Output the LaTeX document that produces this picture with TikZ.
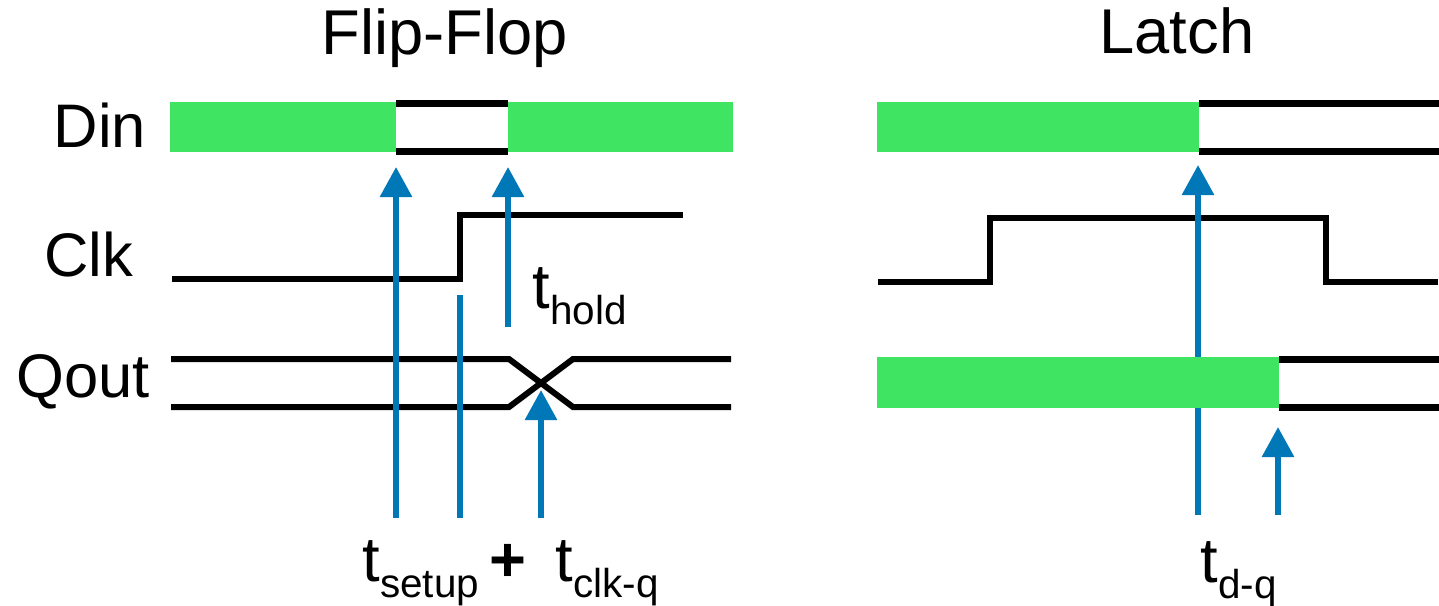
\documentclass[tikz,border=0pt]{standalone}
\usepackage{fontspec}
\setmainfont{Liberation Sans}
\usetikzlibrary{arrows.meta}
\definecolor{datafill}{HTML}{3EE462}
\definecolor{markline}{HTML}{0078B7}
\newcommand{\tsub}[1]{t\raisebox{-1.6mm}{\fontsize{11.5}{12}\selectfont #1}}
\tikzset{
  sig/.style    = {line width=0.6mm, draw=black, line join=miter},
  busedge/.style= {line width=0.7mm, draw=black},
  databar/.style= {fill=datafill},
  tmark/.style  = {-{Triangle[length=3mm, width=3.1mm]}, line width=0.6mm, draw=markline},
  tline/.style  = {line width=0.6mm, draw=markline},
  ttl/.style    = {font=\fontsize{18}{21}\selectfont, inner sep=0pt, anchor=base},
  lbl/.style    = {font=\fontsize{17.5}{21}\selectfont, inner sep=0pt, anchor=base},
  tlbl/.style   = {font=\fontsize{18}{21}\selectfont, inner sep=0pt, anchor=base west},
}

\begin{document}
\begin{tikzpicture}[x=0.1mm, y=-0.1mm]
  \useasboundingbox (0,0) rectangle (1439,605);
  % titles and signal names
  \node[ttl] (fftitle) at (445,54) {Flip-Flop};
  \node[ttl] (latchtitle) at (1177,53) {Latch};
  \node[lbl] (din) at (100,147) {Din};
  \node[lbl] (clk) at (89,276) {Clk};
  \node[lbl] (qout) at (83,397) {Qout};

  % flip-flop: Din
  \fill[databar] (170,102) rectangle (396,152);
  \fill[databar] (508,102) rectangle (733,152);
  \foreach \y in {103,151}{\draw[busedge] (396,\y) -- (508,\y);}
  % flip-flop: Clk
  \draw[sig] (172,279) -- (460,279) -- (460,215) -- (683,215);
  % flip-flop: Qout
  \draw[sig] (171,359) -- (509,359) -- (573,407) -- (731,407);
  \draw[sig] (171,407) -- (509,407) -- (573,359) -- (731,359);

  % latch: Din
  \fill[databar] (877,102) rectangle (1199,152);
  \foreach \y in {103,151}{\draw[busedge] (1199,\y) -- (1439,\y);}
  % latch: Clk
  \draw[sig] (878,282) -- (990,282) -- (990,218) -- (1326,218) -- (1326,282) -- (1438,282);

  % timing marks, flip-flop
  \coordinate (su-tail) at (396,518);  \coordinate (su-tip) at (396,167);
  \coordinate (ck-top) at (460,295);   \coordinate (ck-bot) at (460,518);
  \coordinate (ho-tail) at (508,327);  \coordinate (ho-tip) at (508,167);
  \coordinate (cq-tail) at (541,518);  \coordinate (cq-tip) at (541,390);
  \draw[tmark] (su-tail) -- (su-tip);
  \draw[tline] (ck-top) -- (ck-bot);
  \draw[tmark] (ho-tail) -- (ho-tip);
  \draw[tmark] (cq-tail) -- (cq-tip);

  % timing marks, latch
  \coordinate (dq-tail) at (1198,515); \coordinate (dq-tip) at (1198,165);
  \coordinate (qq-tail) at (1278,515); \coordinate (qq-tip) at (1278,427);
  \draw[tmark] (dq-tail) -- (dq-tip);
  \draw[tmark] (qq-tail) -- (qq-tip);

  % latch: Qout (drawn over the mark)
  \fill[databar] (877,357) rectangle (1279,408);
  \foreach \y in {359,407}{\draw[busedge] (1279,\y) -- (1439,\y);}

  % timing labels
  \node[tlbl] (thold) at (532,308) {\tsub{hold}};
  \node[tlbl] (tsetup) at (362,581) {\tsub{setup}};
  \node[ttl, font=\fontsize{18}{21}\selectfont\bfseries] (plus) at (508,581) {+};
  \node[tlbl] (tclkq) at (555,581) {\tsub{clk-q}};
  \node[tlbl] (tdq) at (1200,582) {\tsub{d-q}};
\end{tikzpicture}
\end{document}
